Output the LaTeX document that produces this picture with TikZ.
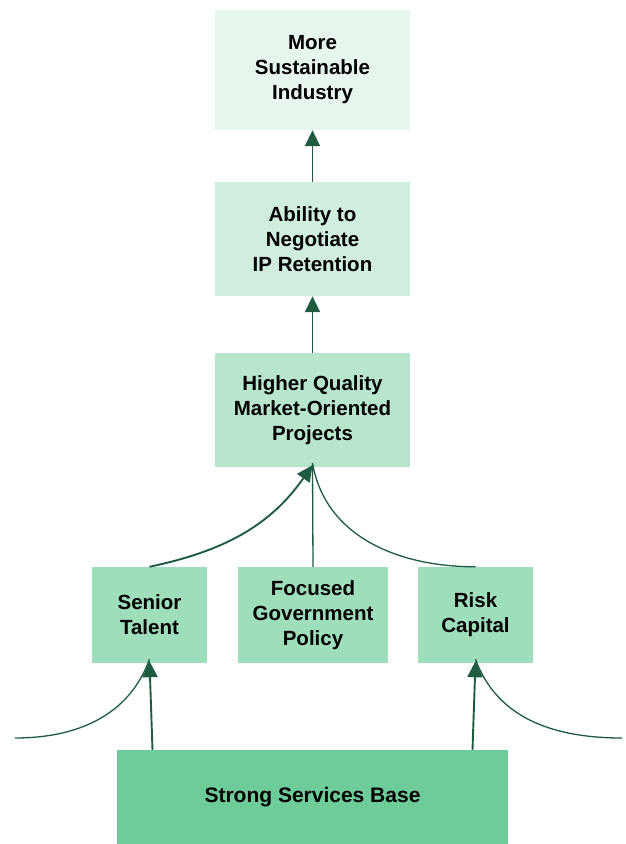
\documentclass[tikz,border=0pt]{standalone}
\usepackage{fontspec}
\setmainfont{Liberation Sans}
\usetikzlibrary{arrows.meta}
\definecolor{leafA}{HTML}{E6F6ED}
\definecolor{leafB}{HTML}{CFEEDE}
\definecolor{leafC}{HTML}{B7E6CD}
\definecolor{leafD}{HTML}{9FDEBB}
\definecolor{leafE}{HTML}{6ECC9B}
\definecolor{pine}{HTML}{1E5B41}
\tikzset{
  box/.style={rectangle, inner sep=0pt, align=center,
    font=\fontsize{20.5}{25}\selectfont\bfseries},
  link/.style={pine, line width=1.9pt},
  thinlink/.style={pine, line width=1.3pt},
  tip/.style={-{Triangle[length=16pt,width=15pt]}}
}
\begin{document}
\begin{tikzpicture}[x=1pt, y=-1pt]
\useasboundingbox (0,0) rectangle (625,844);

% Boxes
\node[box, fill=leafA, minimum width=195pt, minimum height=120pt] (industry) at (312.5,70) {More\\Sustainable\\Industry};
\node[box, fill=leafB, minimum width=195pt, minimum height=114pt] (negotiate) at (312.5,239) {Ability to\\Negotiate\\IP Retention};
\node[box, fill=leafC, minimum width=195pt, minimum height=114pt] (projects) at (312.5,410) {Higher Quality\\Market-Oriented\\Projects};
\node[box, fill=leafD, minimum width=115pt, minimum height=96pt] (talent) at (149.5,615) {Senior\\Talent};
\node[box, fill=leafD, minimum width=150pt, minimum height=96pt] (policy) at (313,615) {Focused\\Government\\Policy};
\node[box, fill=leafD, minimum width=115pt, minimum height=96pt] (capital) at (475.5,615) {Risk\\Capital};
\node[box, fill=leafE, minimum width=391pt, minimum height=94pt, font=\fontsize{21}{25}\selectfont\bfseries] (base) at (312.5,797) {Strong Services Base};

% Free ends of the side curves
\coordinate (leftend) at (15,738);
\coordinate (rightend) at (622,738);

% Arrows up the chain
\draw[link, tip] (negotiate.north) -- (industry.south);
\draw[link, tip] (projects.north) -- (negotiate.south);

% Three inputs into projects
\draw[thinlink] (capital.north) to[out=180, in=-80] ([yshift=4pt]projects.south);
\draw[thinlink] (policy.north) -- ([yshift=4pt]projects.south);
\draw[link, tip] (talent.north) to[out=12, in=-125] ([yshift=2pt]projects.south);

% Base into talent and capital
\draw[thinlink] (leftend) to[out=0, in=-110] ([yshift=4pt]talent.south);
\draw[link, tip] ([xshift=3pt]base.north -| talent.south) -- ([yshift=2pt]talent.south);
\draw[thinlink] (rightend) to[out=180, in=-70] ([yshift=4pt]capital.south);
\draw[link, tip] ([xshift=-3pt]base.north -| capital.south) -- ([yshift=2pt]capital.south);
\end{tikzpicture}
\end{document}
